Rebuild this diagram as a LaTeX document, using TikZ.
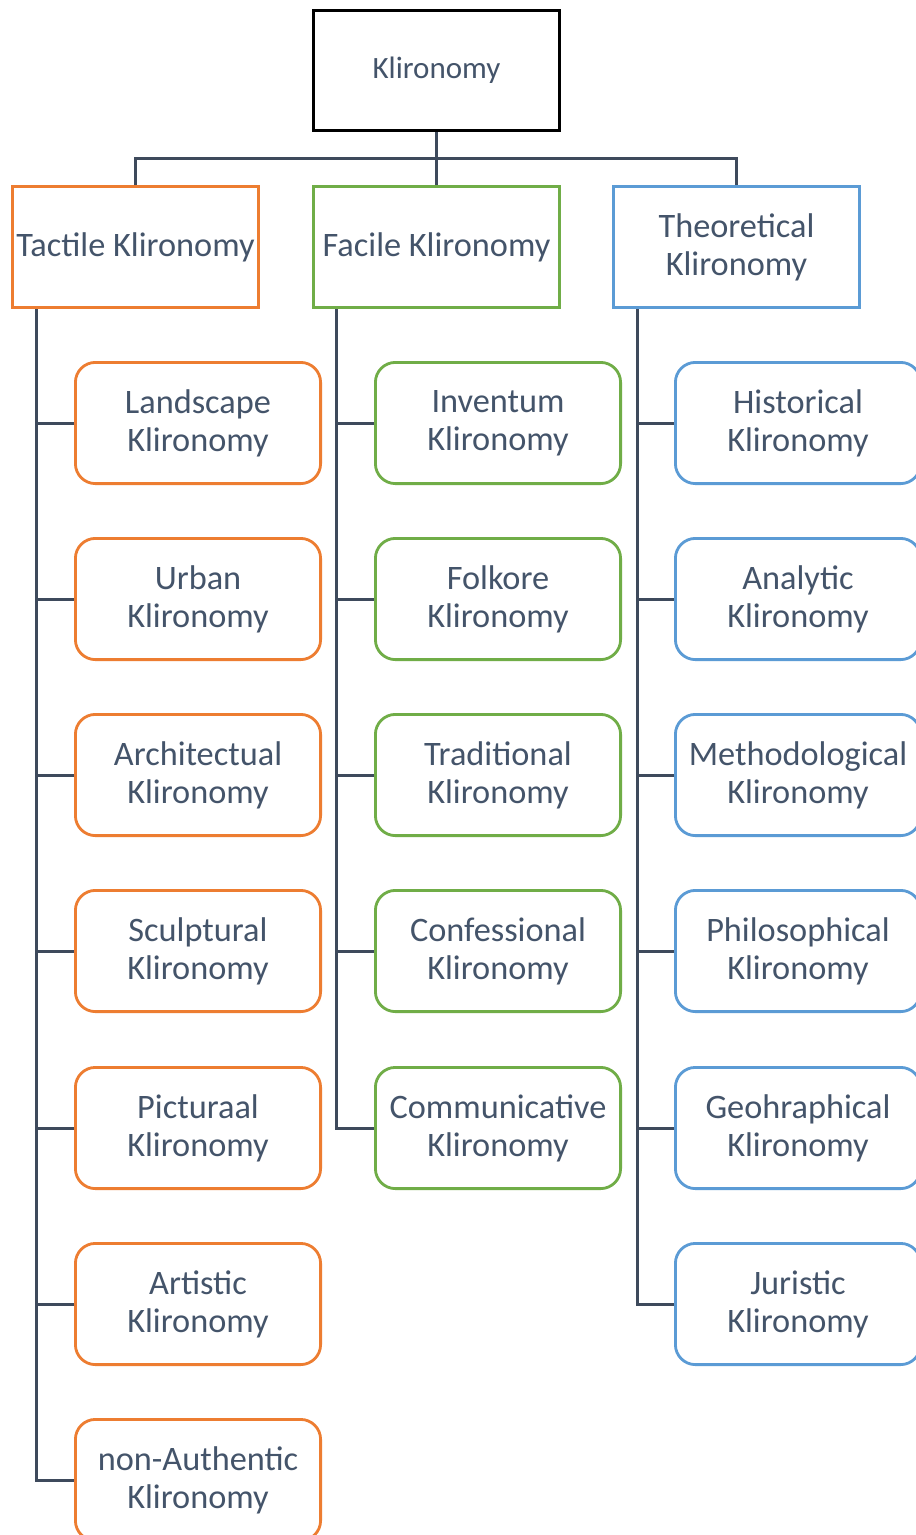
\documentclass[tikz,border=0pt]{standalone}
\usepackage{fontspec}
\setmainfont{Carlito}
\definecolor{txt}{HTML}{44546A}
\definecolor{ln}{HTML}{3E4A5C}
\definecolor{cor}{HTML}{ED7D31}
\definecolor{cgr}{HTML}{70AD47}
\definecolor{cbl}{HTML}{5B9BD5}
\begin{document}
\begin{tikzpicture}[x=1pt,y=-1pt,
  topbox/.style={draw=black,line width=3pt,minimum width=246pt,minimum height=120pt,inner sep=0pt,text=txt,font=\fontsize{31}{37}\selectfont,align=center},
  lvbox/.style={draw=#1,line width=2.8pt,minimum width=246.2pt,minimum height=121.2pt,inner sep=0pt,text=txt,font=\fontsize{34.3}{38}\selectfont,align=center},
  kid/.style={draw=#1,line width=2.8pt,rounded corners=20pt,minimum width=245.2pt,minimum height=121.2pt,inner sep=0pt,text=txt,font=\fontsize{34.3}{38}\selectfont,align=center},
  conn/.style={draw=ln,line width=3pt}]
\useasboundingbox (0,0) rectangle (916,1535);
\clip (0,0) rectangle (916,1535);
\fill[white] (0,0) rectangle (916,1535);
\node[topbox] (top) at (436.5,70.5) {Klironomy};
\node[lvbox=cor] (tac) at (135.5,247) {Tactile Klironomy};
\node[lvbox=cgr] (fac) at (436.5,247) {Facile Klironomy};
\node[lvbox=cbl] (the) at (736.5,247) {Theoretical\\Klironomy};
\coordinate (bus) at (436.5,158);
% orange children
\node[kid=cor] (t1) at (198,423) {Landscape\\Klironomy};
\node[kid=cor] (t2) at (198,599) {Urban\\Klironomy};
\node[kid=cor] (t3) at (198,775) {Architectual\\Klironomy};
\node[kid=cor] (t4) at (198,951) {Sculptural\\Klironomy};
\node[kid=cor] (t5) at (198,1128) {Picturaal\\Klironomy};
\node[kid=cor] (t6) at (198,1304) {Artistic\\Klironomy};
\node[kid=cor] (t7) at (198,1480) {non-Authentic\\Klironomy};
% green children
\node[kid=cgr] (f1) at (498,423) {Inventum\\Klironomy};
\node[kid=cgr] (f2) at (498,599) {Folkore\\Klironomy};
\node[kid=cgr] (f3) at (498,775) {Traditional\\Klironomy};
\node[kid=cgr] (f4) at (498,951) {Confessional\\Klironomy};
\node[kid=cgr] (f5) at (498,1128) {Communicative\\Klironomy};
% blue children
\node[kid=cbl] (h1) at (798,423) {Historical\\Klironomy};
\node[kid=cbl] (h2) at (798,599) {Analytic\\Klironomy};
\node[kid=cbl] (h3) at (798,775) {Methodological\\Klironomy};
\node[kid=cbl] (h4) at (798,951) {Philosophical\\Klironomy};
\node[kid=cbl] (h5) at (798,1128) {Geohraphical\\Klironomy};
\node[kid=cbl] (h6) at (798,1304) {Juristic\\Klironomy};
% top connectors
\draw[conn] (top.south) -- (fac.north);
\draw[conn] (tac.north) -- (tac.north |- bus) -- (the.north |- bus) -- (the.north);
% spines
\coordinate (ts) at ([xshift=25pt]tac.south west);
\coordinate (fs) at ([xshift=24pt]fac.south west);
\coordinate (hs) at ([xshift=25pt]the.south west);
\draw[conn] (ts) |- (t7.west);
\foreach \n in {t1,t2,t3,t4,t5,t6} \draw[conn] (\n.west) -- (\n.west -| ts);
\draw[conn] (fs) |- (f5.west);
\foreach \n in {f1,f2,f3,f4} \draw[conn] (\n.west) -- (\n.west -| fs);
\draw[conn] (hs) |- (h6.west);
\foreach \n in {h1,h2,h3,h4,h5} \draw[conn] (\n.west) -- (\n.west -| hs);
\end{tikzpicture}
\end{document}
